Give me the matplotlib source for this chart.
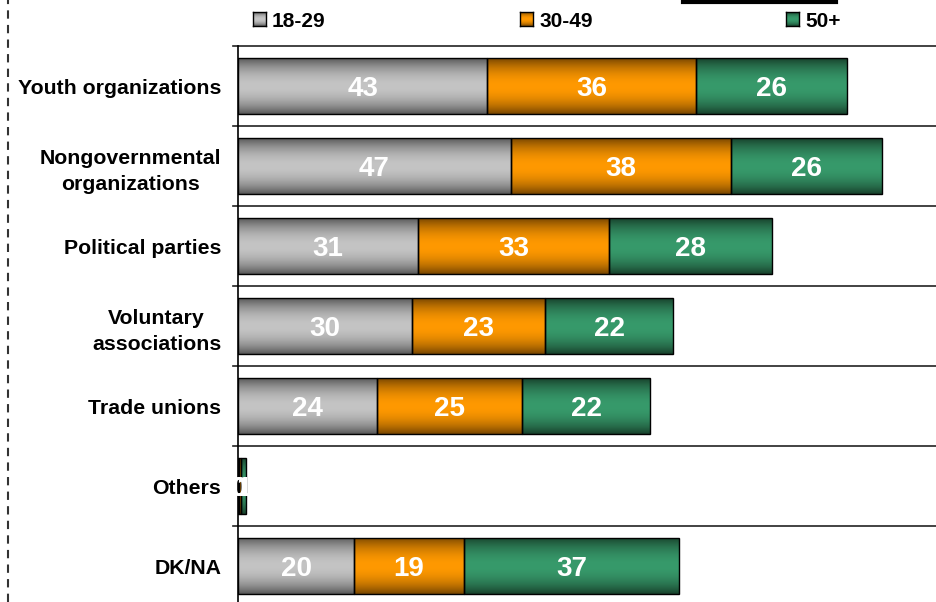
import numpy as np
import matplotlib
matplotlib.use("Agg")
import matplotlib.pyplot as plt
from matplotlib.colors import to_rgb
from matplotlib.lines import Line2D

plt.rcParams['font.family'] = ['Liberation Sans', 'DejaVu Sans']

categories = ["Youth organizations", "Nongovernmental\norganizations", "Political parties",
              "Voluntary\nassociations", "Trade unions", "Others", "DK/NA"]
series_names = ["18-29", "30-49", "50+"]
s18_29 = [43, 47, 31, 30, 24, 0.1, 20]
s30_49 = [36, 38, 33, 23, 25, 0.5, 19]
s50p = [26, 26, 28, 22, 22, 0.8, 37]
series = [s18_29, s30_49, s50p]
centers = ["#c4c4c4", "#ff9900", "#379a6b"]
edges = ["#555555", "#744400", "#173f2a"]


def grad_img(c_center, c_edge, n=64):
    t = np.linspace(0, 1, n)
    w = np.sin(np.pi * t) ** 0.8
    c1 = np.array(to_rgb(c_center))
    c0 = np.array(to_rgb(c_edge))
    img = c0[None, :] + (c1 - c0)[None, :] * w[:, None]
    return img[:, None, :]


W, H = 936, 602
fig = plt.figure(figsize=(W / 100, H / 100), dpi=100)
ax_left = 238 / W
ax_top = 1 - 46 / H
ax = fig.add_axes([ax_left, 0, 1 - ax_left, ax_top])

px_per_unit = 5.8
xmax = (W - 238) / px_per_unit
ylim = (-0.5 + (H - 46) / 80, -0.5)

y = np.arange(len(categories))
h = 0.7
left = np.zeros(len(categories))
for vals, cc, ce in zip(series, centers, edges):
    bars = ax.barh(y, vals, left=left, height=h, facecolor='none',
                   edgecolor='black', linewidth=1.0, zorder=3)
    img = grad_img(cc, ce)
    for b in bars:
        x0, y0 = b.get_x(), b.get_y()
        bw, bh = b.get_width(), b.get_height()
        im = ax.imshow(img, extent=(x0, x0 + bw, y0 + bh, y0), aspect='auto',
                       interpolation='bilinear', zorder=2)
        im.set_clip_path(b)
    for yi, v, l in zip(y, vals, left):
        ax.text(l + v / 2, yi, f"{v:.0f}", ha='center', va='center_baseline', color='white',
                fontsize=20, fontweight='bold', zorder=4)
    left = left + np.array(vals)

ax.set_xlim(0, xmax)
ax.set_ylim(*ylim)
ax.set_yticks(y)
ax.set_yticklabels(categories, fontsize=15.3, fontweight='bold', linespacing=1.45,
                   multialignment='center', va='center_baseline')
ax.tick_params(axis='y', length=0, pad=12)
ax.set_xticks([])
for s in ['top', 'right', 'bottom']:
    ax.spines[s].set_visible(False)
ax.spines['left'].set_linewidth(1.2)
for b in np.arange(-0.5, len(categories), 1.0):
    ax.plot([-5 / px_per_unit, xmax], [b, b], color='#222222', lw=1.2,
            clip_on=False, zorder=1)

# legend
sq_x = [253, 520, 786]
for name, cc, ce, sx in zip(series_names, centers, edges, sq_x):
    sax = fig.add_axes([sx / W, 1 - 26 / H, 13 / W, 14 / H])
    sax.imshow(grad_img(cc, ce), aspect='auto', interpolation='bilinear')
    sax.set_xticks([]); sax.set_yticks([])
    for sp in sax.spines.values():
        sp.set_linewidth(1.0)
    fig.text((sx + 19) / W, 1 - 19.5 / H, name, fontsize=15, fontweight='bold',
             ha='left', va='center_baseline')

# top black bar
fig.add_artist(Line2D([683 / W, 836 / W], [1 - 1.5 / H, 1 - 1.5 / H], color='black', lw=3))
# left dashed line
fig.add_artist(Line2D([8 / W, 8 / W], [0, 1], color='#333333', lw=1.5,
                      linestyle=(0, (4, 3))))

fig.savefig("out.png", dpi=100)
